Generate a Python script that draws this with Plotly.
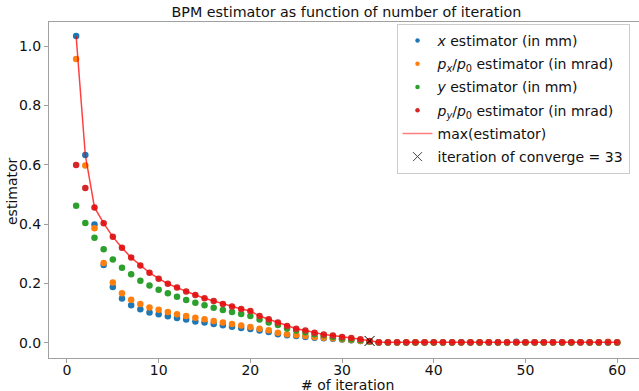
import numpy as np
import plotly.graph_objects as go

iterations = list(range(1, 61))

x_est = [1.034, 0.633, 0.399, 0.262, 0.188, 0.149, 0.126, 0.113, 0.102, 0.096,
         0.089, 0.083, 0.078, 0.072, 0.068, 0.063, 0.059, 0.054, 0.050, 0.046,
         0.041, 0.036, 0.029, 0.025, 0.023, 0.019, 0.017, 0.015, 0.013, 0.011,
         0.008, 0.006, 0.003, 0.001, 0.001, 0.001, 0.001, 0.001, 0.001, 0.001,
         0.001, 0.001, 0.002, 0.001, 0.001, 0.001, 0.001, 0.001, 0.003, 0.001,
         0.001, 0.001, 0.002, 0.001, 0.001, 0.002, 0.001, 0.001, 0.001, 0.001]
px_est = [0.957, 0.598, 0.386, 0.269, 0.203, 0.167, 0.145, 0.131, 0.119, 0.111,
          0.104, 0.096, 0.090, 0.084, 0.079, 0.073, 0.068, 0.063, 0.058, 0.053,
          0.047, 0.042, 0.034, 0.029, 0.026, 0.023, 0.019, 0.017, 0.015, 0.012,
          0.009, 0.006, 0.003, 0.001, 0.001, 0.001, 0.001, 0.001, 0.001, 0.001,
          0.001, 0.001, 0.001, 0.001, 0.001, 0.002, 0.001, 0.001, 0.001, 0.001,
          0.001, 0.001, 0.001, 0.001, 0.001, 0.001, 0.001, 0.001, 0.003, 0.001]
y_est = [0.462, 0.404, 0.354, 0.315, 0.281, 0.253, 0.231, 0.209, 0.193, 0.179,
         0.167, 0.155, 0.144, 0.135, 0.126, 0.118, 0.110, 0.104, 0.097, 0.090,
         0.078, 0.068, 0.060, 0.048, 0.041, 0.035, 0.029, 0.025, 0.019, 0.014,
         0.011, 0.008, 0.004, 0.001, 0.001, 0.001, 0.001, 0.001, 0.001, 0.001,
         0.001, 0.001, 0.001, 0.001, 0.001, 0.001, 0.001, 0.001, 0.001, 0.001,
         0.001, 0.001, 0.001, 0.001, 0.001, 0.001, 0.001, 0.001, 0.001, 0.001]
py_est = [0.599, 0.522, 0.456, 0.403, 0.357, 0.320, 0.287, 0.260, 0.236, 0.216,
          0.199, 0.186, 0.173, 0.161, 0.150, 0.141, 0.131, 0.122, 0.114, 0.107,
          0.090, 0.079, 0.068, 0.056, 0.047, 0.041, 0.034, 0.028, 0.024, 0.019,
          0.016, 0.012, 0.006, 0.002, 0.002, 0.002, 0.002, 0.002, 0.002, 0.002,
          0.002, 0.002, 0.002, 0.002, 0.002, 0.002, 0.002, 0.002, 0.002, 0.002,
          0.002, 0.002, 0.002, 0.002, 0.002, 0.002, 0.002, 0.002, 0.002, 0.002]
converge_iter = 33

x_ticks = [0, 10, 20, 30, 40, 50, 60]
y_ticks = [0.0, 0.2, 0.4, 0.6, 0.8, 1.0]

max_est = np.max(np.array([x_est, px_est, y_est, py_est]), axis=0)

FONT = "DejaVu Sans"
fs = 14
TXT = "#111"
LINE_COL = "rgba(255,0,0,0.75)"

fig = go.Figure()
series = [
    (x_est, "#1f77b4", "<i>x</i> estimator (in mm)"),
    (px_est, "#ff7f0e", "<i>p<sub>x</sub></i>/<i>p</i><sub>0</sub> estimator (in mrad)"),
    (y_est, "#2ca02c", "<i>y</i> estimator (in mm)"),
    (py_est, "#d62728", "<i>p<sub>y</sub></i>/<i>p</i><sub>0</sub> estimator (in mrad)"),
]
for k, (vals, col, name) in enumerate(series):
    fig.add_trace(go.Scatter(x=iterations, y=vals, mode="markers", name=name,
                             legendgroup=f"g{k}", showlegend=False,
                             marker=dict(color=col, size=6.5, line=dict(width=0))))
fig.add_trace(go.Scatter(x=iterations, y=max_est, mode="lines", name="max(estimator)",
                         legendgroup="g4", showlegend=False,
                         line=dict(color=LINE_COL, width=1.5)))
fig.add_trace(go.Scatter(x=[converge_iter], y=[max_est[converge_iter - 1]], mode="markers",
                         name=f"iteration of converge = {converge_iter}",
                         legendgroup="g5", showlegend=False,
                         marker=dict(symbol="x-thin-open", size=10, color="black",
                                     line=dict(width=1, color="black"))))

# legend-only entries (smaller legend symbols, as in the reference)
for k, (vals, col, name) in enumerate(series):
    fig.add_trace(go.Scatter(x=[None], y=[None], mode="markers", name=name,
                             legendgroup=f"g{k}",
                             marker=dict(color=col, size=4.5, line=dict(width=0))))
fig.add_trace(go.Scatter(x=[None], y=[None], mode="lines", name="max(estimator)",
                         legendgroup="g4", line=dict(color="rgba(255,0,0,0.5)", width=1.5)))
fig.add_trace(go.Scatter(x=[None], y=[None], mode="markers",
                         name=f"iteration of converge = {converge_iter}", legendgroup="g5",
                         marker=dict(symbol="x-thin-open", size=9, color="#444",
                                     line=dict(width=1, color="#444"))))

axis_common = dict(showgrid=False, zeroline=False, showline=True, linecolor="#a0a0a0",
                   linewidth=1, ticks="outside", ticklen=4, tickcolor="#a0a0a0",
                   automargin=False,
                   tickfont=dict(family=FONT, size=fs, color=TXT))

fig.update_layout(
    width=639, height=391,
    margin=dict(l=49, r=0, t=22, b=33, autoexpand=False),
    paper_bgcolor="white", plot_bgcolor="white",
    font=dict(family=FONT, size=fs, color=TXT),
    title=dict(text="BPM estimator as function of number of iteration",
               x=0.504, xref="paper", xanchor="center", y=1 - 12 / 391, yref="container",
               yanchor="middle", font=dict(family=FONT, size=14.3, color=TXT)),
    xaxis=dict(range=[-1.96, 62.38], tickvals=x_ticks, mirror=True,
               ticklabelstandoff=-5, **axis_common),
    yaxis=dict(range=[-0.0515, 1.0815], tickvals=y_ticks, tickformat=".1f", **axis_common),
    legend=dict(x=0.589, y=0.994, xanchor="left", yanchor="top",
                bgcolor="rgba(255,255,255,0.85)", bordercolor="#cccccc", borderwidth=1,
                font=dict(family=FONT, size=fs, color=TXT), tracegroupgap=2,
                itemsizing="trace"),
    showlegend=True,
    annotations=[
        dict(text="# of iteration", xref="paper", yref="paper", x=(347 - 49) / 590,
             y=-(385 - 358) / 336, xanchor="center", yanchor="middle", showarrow=False,
             font=dict(family=FONT, size=fs, color=TXT)),
        dict(text="estimator", xref="paper", yref="paper", x=-(49 - 12) / 590,
             y=(358 - 191) / 336, xanchor="center", yanchor="middle", showarrow=False,
             textangle=-90, font=dict(family=FONT, size=fs, color=TXT)),
    ],
)

fig.write_html("out.html", config={"displayModeBar": False},
               post_script="document.body.style.margin='0';")
